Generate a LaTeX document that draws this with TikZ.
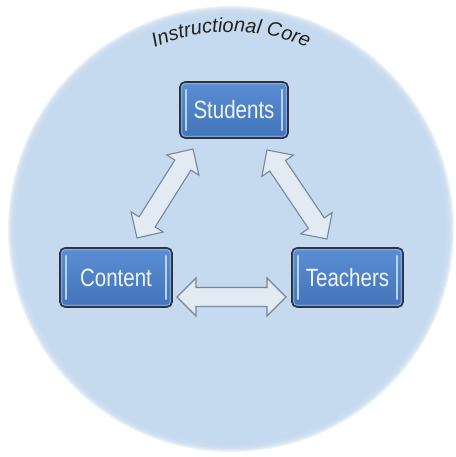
\documentclass[tikz,border=0pt]{standalone}
\usepackage{fontspec}
\setmainfont{Liberation Sans}
\usetikzlibrary{calc,decorations.text}
\definecolor{circfill}{HTML}{C6DAEF}
\definecolor{boxtop}{HTML}{5A8ED3}
\definecolor{boxbot}{HTML}{4373BA}
\definecolor{boxedge}{HTML}{2E3440}
\definecolor{barcol}{HTML}{B8D3F2}
\definecolor{arrfill}{HTML}{E2EAF4}
\definecolor{arredge}{HTML}{76879B}
\definecolor{boxtext}{HTML}{F0F5FB}
\tikzset{
  corebox/.style={draw=boxedge, line width=1.6pt, rounded corners=5pt,
    top color=boxtop, bottom color=boxbot, inner sep=0pt,
    font=\fontsize{25}{28}\selectfont, text=boxtext,
    path picture={
      \draw[barcol, line width=2.4pt, line cap=round]
        ($(path picture bounding box.south west)+(6,8)$) -- ($(path picture bounding box.north west)+(6,-8)$);
      \draw[barcol, line width=2.4pt, line cap=round]
        ($(path picture bounding box.south east)+(-6,8)$) -- ($(path picture bounding box.north east)+(-6,-8)$);
      \draw[barcol!70!boxtop, line width=0.7pt, rounded corners=3pt]
        ($(path picture bounding box.south west)+(1.8,1.8)$) rectangle ($(path picture bounding box.north east)+(-1.8,-1.8)$);
    }},
  barrow/.style={draw=arredge, line width=1.1pt, fill=arrfill, line join=miter},
}
\newcommand\blockarrow[2]{%
  \draw[barrow] let \p1=($(#2)-(#1)$), \n1={atan2(\y1,\x1)}, \n2={veclen(\x1,\y1)} in
    ([shift={(#1)},rotate=\n1]0,0) -- ([shift={(#1)},rotate=\n1]19,19)
    -- ([shift={(#1)},rotate=\n1]19,9.5) -- ([shift={(#1)},rotate=\n1]{\n2-19},9.5)
    -- ([shift={(#1)},rotate=\n1]{\n2-19},19) -- ([shift={(#1)},rotate=\n1]{\n2},0)
    -- ([shift={(#1)},rotate=\n1]{\n2-19},-19) -- ([shift={(#1)},rotate=\n1]{\n2-19},-9.5)
    -- ([shift={(#1)},rotate=\n1]19,-9.5) -- ([shift={(#1)},rotate=\n1]19,-19) -- cycle;}
\begin{document}
\begin{tikzpicture}[x=1pt,y=1pt]
\useasboundingbox (0,0) rectangle (455,457);
\fill[white] (0,0) rectangle (455,457);
% soft-edged circle
\coordinate (ctr) at (231,228);
\foreach \r in {223,222,221,220,219,218}
  \fill[circfill, opacity=0.3] (ctr) circle[radius=\r];
\fill[circfill] (ctr) circle[radius=216];
% title along arc
\path[decorate, decoration={text along path, text align=center,
   text={|\itshape\fontsize{20}{24}\selectfont\color[HTML]{222222}|Instructional Core}}]
  ($(ctr)+(128:197)$) arc[start angle=128, end angle=52, radius=197];
% boxes
\node[corebox, minimum width=108, minimum height=56] (stu) at (234,347) {\scalebox{0.82}[1]{Students}};
\node[corebox, minimum width=112, minimum height=59] (con) at (116,179.5) {\scalebox{0.82}[1]{Content}};
\node[corebox, minimum width=111, minimum height=59] (tea) at (347.5,179.5) {\scalebox{0.82}[1]{Teachers}};
% arrow end points
\coordinate (l1) at (137,219);
\coordinate (l2) at (193,308);
\coordinate (r1) at (267,307);
\coordinate (r2) at (327,218);
\coordinate (h1) at (177,160);
\coordinate (h2) at (286,160);
\blockarrow{l1}{l2}
\blockarrow{r1}{r2}
\blockarrow{h1}{h2}
\end{tikzpicture}
\end{document}
